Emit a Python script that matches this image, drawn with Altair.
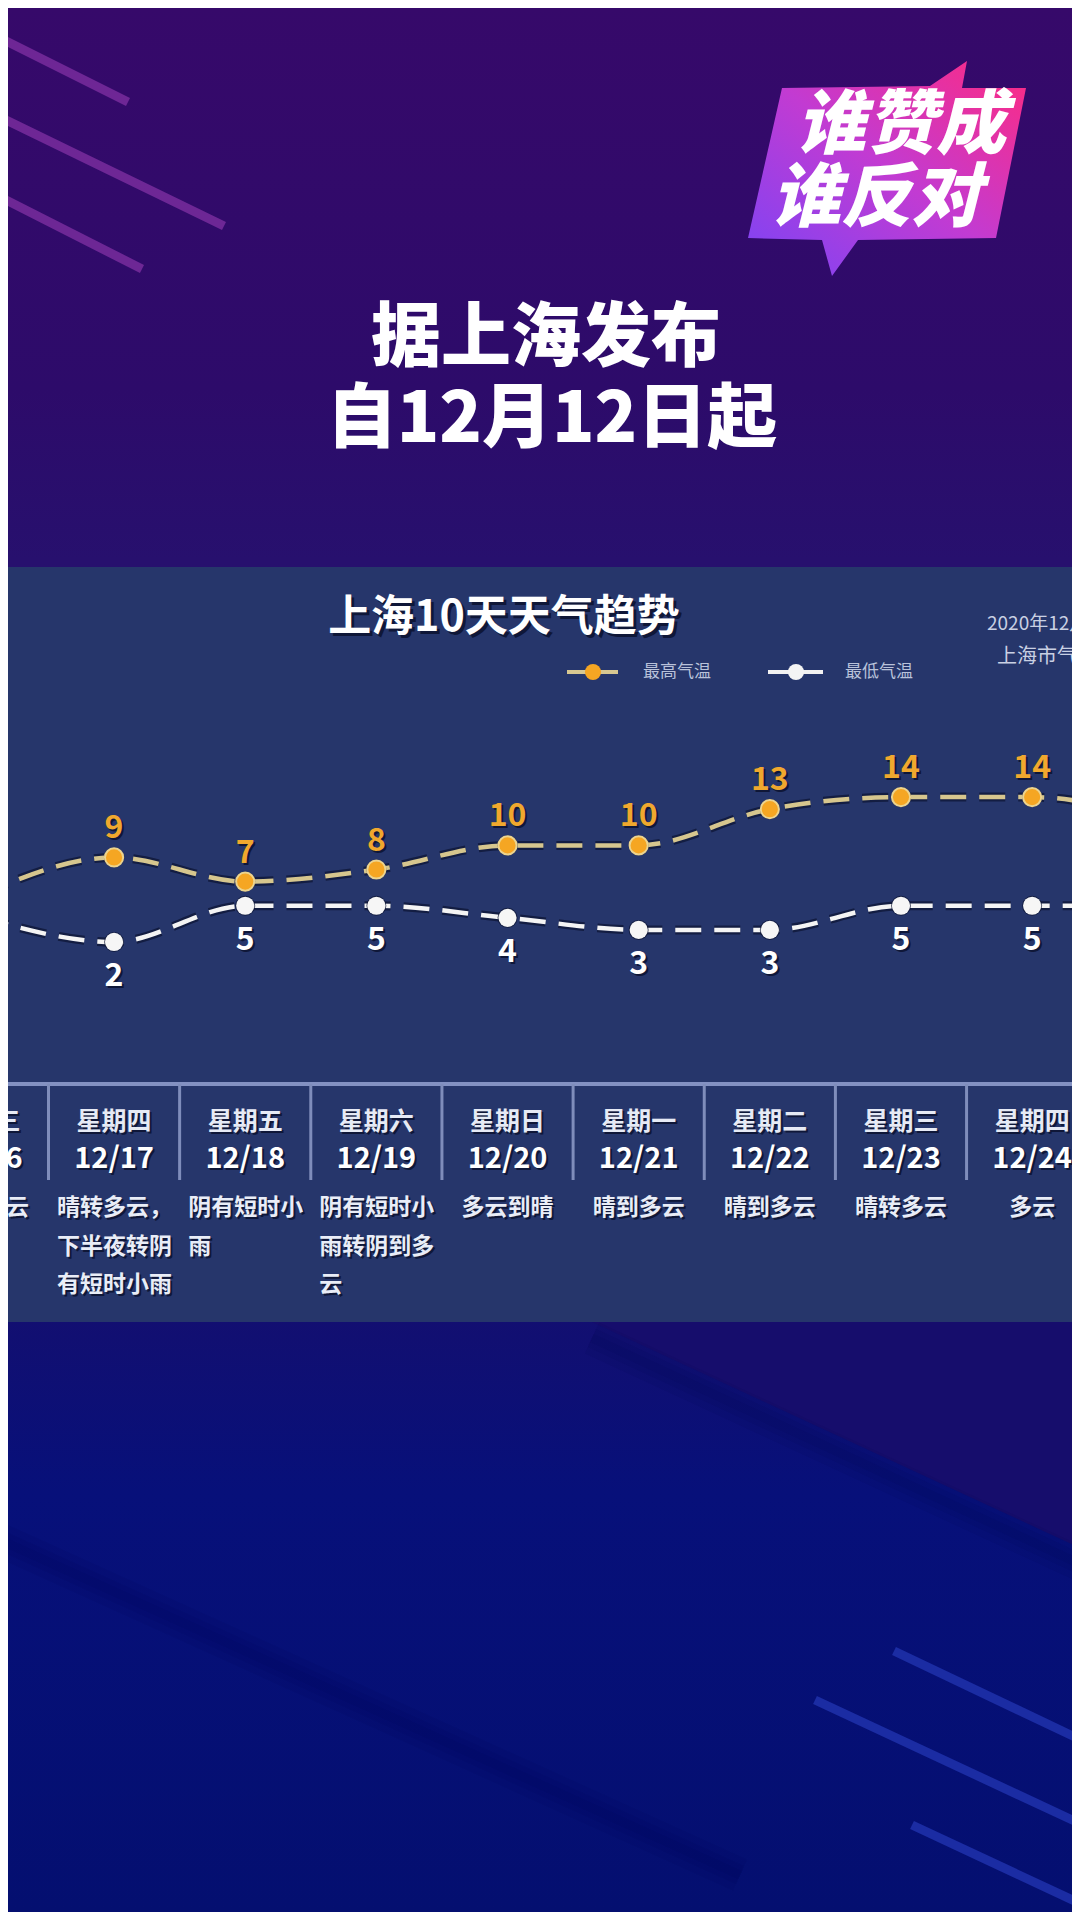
import altair as alt
import pandas as pd

# ---------------- data ----------------
day_idx = [16, 17, 18, 19, 20, 21, 22, 23, 24, 25]
dates = ["12/16", "12/17", "12/18", "12/19", "12/20", "12/21", "12/22", "12/23", "12/24", "12/25"]
weekdays = ["星期三", "星期四", "星期五", "星期六", "星期日", "星期一", "星期二", "星期三", "星期四", "星期五"]
high = [6, 9, 7, 8, 10, 10, 13, 14, 14, 12]
low = [4, 2, 5, 5, 4, 3, 3, 5, 5, 5]
weather = [
    ["晴转多云"],
    ["晴转多云，", "下半夜转阴", "有短时小雨"],
    ["阴有短时小", "雨"],
    ["阴有短时小", "雨转阴到多", "云"],
    ["多云到晴"],
    ["晴到多云"],
    ["晴到多云"],
    ["晴转多云"],
    ["多云"],
    ["多云"],
]
title_text = "上海10天天气趋势"
headline = ["据上海发布", "自12月12日起"]
logo_lines = ["谁赞成", "谁反对"]
series_names = ["最高气温", "最低气温"]
source_lines = ["2020年12月12日", "上海市气象台"]

# ---------------- tables ----------------
days_df = pd.DataFrame({"idx": day_idx, "date": dates, "wd": weekdays})
hi_df = pd.DataFrame({"idx": day_idx, "v": high})
lo_df = pd.DataFrame({"idx": day_idx, "v": low})
rows = []
for d, lines in zip(day_idx, weather):
    for i, t in enumerate(lines):
        rows.append({"idx": d, "line": i, "t": t, "n": len(lines)})
desc_df = pd.DataFrame(rows)
sep_df = pd.DataFrame({"sep": [d + 0.5 for d in [day_idx[0] - 1] + day_idx]})
one = pd.DataFrame({"k": [0]})

# ---------------- style ----------------
W, H = 1064, 1904
FONT = "Noto Sans CJK SC"
SHADOW = "#0b1230"
PANEL = "#26366b"

xscale = alt.Scale(domain=[16, 25], range=[-25.1, 1155.3], nice=False, zero=False)
yscale = alt.Scale(domain=[0, 14], range=[958.1, 789.1], nice=False, zero=False)
lscale = alt.Scale(domain=[0, 2], range=[1200, 1277], nice=False, zero=False)
X = alt.X("idx:Q", scale=xscale, axis=None)
Y = alt.Y("v:Q", scale=yscale, axis=None)

layers = []


def poly(points, color, opacity=1.0):
    xs = [p[0] for p in points]
    ys = [p[1] for p in points]
    cx = (min(xs) + max(xs)) / 2
    cy = (min(ys) + max(ys)) / 2
    s = max(max(xs) - min(xs), max(ys) - min(ys)) / 2
    path = "M " + " L ".join(f"{(x - cx) / s:.4f} {(y - cy) / s:.4f}" for x, y in points) + " Z"
    return alt.Chart(one).mark_point(
        shape=path, filled=True, size=(2 * s) ** 2, color=color, opacity=opacity, strokeWidth=0
    ).encode(x=alt.value(cx), y=alt.value(cy))


def seg(x1, y1, x2, y2, color, width, opacity=1.0):
    return alt.Chart(one).mark_rule(color=color, strokeWidth=width, opacity=opacity, strokeCap="butt").encode(
        x=alt.value(x1), y=alt.value(y1), x2=alt.value(x2), y2=alt.value(y2)
    )


def text_pair(data, enc, color, shadow=True, sh_off=2, **mk):
    out = []
    dx = mk.pop("dx", 0)
    dy = mk.pop("dy", 0)
    if shadow:
        out.append(alt.Chart(data).mark_text(color=SHADOW, opacity=0.85, dx=dx + sh_off, dy=dy + sh_off, **mk).encode(**enc))
    out.append(alt.Chart(data).mark_text(color=color, dx=dx, dy=dy, **mk).encode(**enc))
    return out


# background
bg_grad = alt.LinearGradient(
    gradient="linear", x1=0, y1=0, x2=0, y2=1,
    stops=[
        alt.GradientStop(color="#36096a", offset=0),
        alt.GradientStop(color="#2d0b6a", offset=0.2),
        alt.GradientStop(color="#27106e", offset=0.29),
        alt.GradientStop(color="#120f71", offset=0.69),
        alt.GradientStop(color="#07107a", offset=0.78),
        alt.GradientStop(color="#040f70", offset=1),
    ],
)
layers.append(alt.Chart(one).mark_rect(color=bg_grad).encode(
    x=alt.value(0), x2=alt.value(W), y=alt.value(0), y2=alt.value(H)))

# bottom diagonal shading (soft)
layers.append(poly([(584, 1314), (1072, 1314), (1072, 1540)], "#160d6c"))
for w in (34, 20, 9):
    layers.append(seg(584, 1330, 1072, 1556, "#020650", w, 0.09))
    layers.append(seg(-8, 1532, 732, 1867, "#020650", w, 0.08))
# bottom-right light stripes
layers.append(seg(886, 1643, 1090, 1740, "#1b2ca3", 9))
layers.append(seg(807, 1692, 1090, 1824, "#1b2ca3", 9))
layers.append(seg(904, 1817, 1090, 1904, "#1b2ca3", 9))
# top-left stripes
layers.append(seg(-8, 30, 120, 94, "#742a9a", 9, 0.9))
layers.append(seg(-8, 109, 216, 218, "#742a9a", 9, 0.9))
layers.append(seg(-8, 189, 134, 261, "#742a9a", 9, 0.9))

# logo
logo_grad = alt.LinearGradient(
    gradient="linear", x1=0, y1=1, x2=1, y2=0,
    stops=[
        alt.GradientStop(color="#7a44f6", offset=0),
        alt.GradientStop(color="#c23bd2", offset=0.5),
        alt.GradientStop(color="#ff2a80", offset=1),
    ],
)
logo_pts = [(774, 80), (922, 78), (959, 53), (954, 80), (1018, 80), (988, 230),
            (850, 232), (824, 268), (814, 232), (740, 230)]
layers.append(poly(logo_pts, logo_grad))
layers.append(alt.Chart(one).mark_text(text=logo_lines[0], font=FONT, fontSize=70, fontWeight=900,
                                       fontStyle="italic", color="white").encode(x=alt.value(893), y=alt.value(119)))
layers.append(alt.Chart(one).mark_text(text=logo_lines[1], font=FONT, fontSize=70, fontWeight=900,
                                       fontStyle="italic", color="white").encode(x=alt.value(868), y=alt.value(192)))

# headline
layers.append(alt.Chart(one).mark_text(text=headline[0], font=FONT, fontSize=70, fontWeight=900,
                                       color="white").encode(x=alt.value(538), y=alt.value(332)))
layers.append(alt.Chart(one).mark_text(text=headline[1], font=FONT, fontSize=70, fontWeight=900,
                                       color="white").encode(x=alt.value(544), y=alt.value(413)))

# panel
layers.append(alt.Chart(one).mark_rect(color=PANEL).encode(
    x=alt.value(0), x2=alt.value(W), y=alt.value(559), y2=alt.value(1314)))

# chart title
layers += text_pair(one, {"x": alt.value(496), "y": alt.value(610)}, "white", sh_off=3,
                    text=title_text, font=FONT, fontSize=43, fontWeight="bold")

# legend
layers.append(seg(559, 664, 610, 664, "#d8c891", 4))
layers.append(alt.Chart(one).mark_circle(size=260, color="#f5a623", opacity=1).encode(x=alt.value(585), y=alt.value(664)))
layers.append(alt.Chart(one).mark_text(text=series_names[0], font=FONT, fontSize=17, align="left",
                                       color="#b9c2da").encode(x=alt.value(635), y=alt.value(664)))
layers.append(seg(760, 664, 815, 664, "#f2f2f2", 4))
layers.append(alt.Chart(one).mark_circle(size=260, color="#f4f4f4", opacity=1).encode(x=alt.value(788), y=alt.value(664)))
layers.append(alt.Chart(one).mark_text(text=series_names[1], font=FONT, fontSize=17, align="left",
                                       color="#b9c2da").encode(x=alt.value(837), y=alt.value(664)))

# source text
layers.append(alt.Chart(one).mark_text(text=source_lines[0], font=FONT, fontSize=19, align="left",
                                       color="#c9d0e3").encode(x=alt.value(979), y=alt.value(616)))
layers.append(alt.Chart(one).mark_text(text=source_lines[1], font=FONT, fontSize=20, align="left",
                                       color="#c9d0e3").encode(x=alt.value(989), y=alt.value(649)))

# temperature lines
DASH = [26, 13]
for df, col in [(hi_df, "#d6c68e"), (lo_df, "#f4f4f4")]:
    layers.append(alt.Chart(df).mark_line(interpolate="monotone", strokeDash=DASH, strokeWidth=9,
                                          color=SHADOW, opacity=0.7).encode(x=X, y=Y))
    layers.append(alt.Chart(df).mark_line(interpolate="monotone", strokeDash=DASH, strokeWidth=4.5,
                                          color=col).encode(x=X, y=Y))
layers.append(alt.Chart(hi_df).mark_circle(size=400, color=SHADOW, opacity=0.7).encode(x=X, y=Y))
layers.append(alt.Chart(hi_df).mark_circle(size=330, color="#f5a623", opacity=1,
                                           stroke="#ecd48f", strokeWidth=2).encode(x=X, y=Y))
layers.append(alt.Chart(lo_df).mark_circle(size=400, color=SHADOW, opacity=0.7).encode(x=X, y=Y))
layers.append(alt.Chart(lo_df).mark_circle(size=330, color="#f6f6f6", opacity=1).encode(x=X, y=Y))

layers += text_pair(hi_df, {"x": X, "y": Y, "text": alt.Text("v:Q")}, "#f0a82e",
                    font=FONT, fontSize=32, fontWeight="bold", dy=-29)
layers += text_pair(lo_df, {"x": X, "y": Y, "text": alt.Text("v:Q")}, "#ffffff",
                    font=FONT, fontSize=32, fontWeight="bold", dy=34)

# table
layers.append(seg(0, 1076, W, 1076, "#8391c2", 4))
layers.append(alt.Chart(sep_df).mark_rule(color="#7f8dbb", strokeWidth=3).encode(
    x=alt.X("sep:Q", scale=xscale, axis=None), y=alt.value(1076), y2=alt.value(1172)))
layers += text_pair(days_df, {"x": X, "y": alt.value(1114), "text": alt.Text("wd:N")}, "#e6eaf5",
                    font=FONT, fontSize=25, fontWeight="bold")
layers += text_pair(days_df, {"x": X, "y": alt.value(1151), "text": alt.Text("date:N")}, "#ffffff",
                    font=FONT, fontSize=29, fontWeight="bold")
LY = alt.Y("line:Q", scale=lscale, axis=None)
single = alt.Chart(desc_df).transform_filter("datum.n == 1")
multi = alt.Chart(desc_df).transform_filter("datum.n > 1")
for base, kw in [(single, {"align": "center"}), (multi, {"align": "left", "dx": -57})]:
    dx = kw.get("dx", 0)
    layers.append(base.mark_text(font=FONT, fontSize=23, fontWeight="bold", color=SHADOW, opacity=0.85,
                                 align=kw["align"], dx=dx + 2, dy=2).encode(x=X, y=LY, text="t:N"))
    layers.append(base.mark_text(font=FONT, fontSize=23, fontWeight="bold", color="#e9edf7",
                                 align=kw["align"], dx=dx).encode(x=X, y=LY, text="t:N"))

chart = (
    alt.layer(*layers)
    .resolve_scale(y="independent")
    .properties(width=W, height=H, padding=0, autosize=alt.AutoSizeParams(type="none"), background=PANEL)
    .configure_view(strokeWidth=0)
)

chart.save("out.html", embed_options={"renderer": "svg", "actions": False})
